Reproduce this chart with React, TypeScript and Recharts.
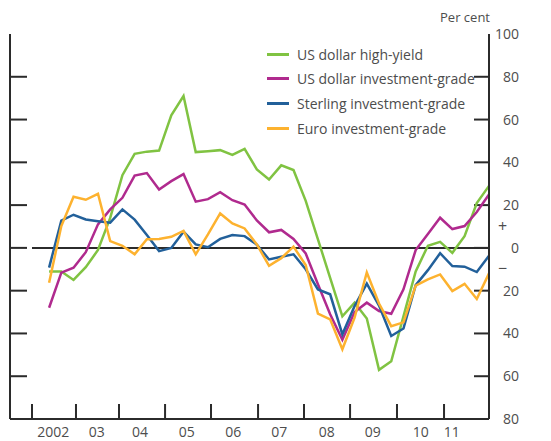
import { LineChart, Line, XAxis, YAxis, ReferenceLine } from "recharts"

const HIGH_YIELD = [-11, -11, -15, -9, -1, 14, 34, 44, 45, 45.5, 62, 71, 44.8, 45.2, 45.7, 43.5, 46.3, 36.7, 32, 38.6, 36.4, 22, 4, -14, -32, -25.6, -33, -57, -53, -32, -11, 1, 2.8, -2.3, 5.5, 21, 29]
const USD_IG = [-28, -11.6, -9.3, -2, 11, 18, 23.4, 33.8, 35, 27.3, 31.2, 34.5, 21.6, 22.8, 26, 22.3, 20.3, 12.8, 7.3, 8.4, 4.2, -2.6, -17, -31, -43, -30, -25.6, -29.5, -30.8, -19.4, -1, 6.5, 14.1, 8.8, 10.2, 16.8, 25]
const STERLING_IG = [-9.2, 12.8, 15.5, 13.3, 12.5, 11.8, 18, 13.2, 6, -1.5, 0, 7.6, 1.6, 0.3, 4.2, 6, 5.5, 1.5, -5.4, -4.1, -3, -10, -19.4, -21.7, -40.4, -27.2, -16.7, -27, -41.2, -37.7, -17.4, -10.4, -2.5, -8.5, -8.8, -11.3, -3.7]
const EURO_IG = [-16.3, 10.2, 23.9, 22.5, 25.3, 3.2, 1, -3, 4, 4.2, 5.2, 7.9, -3, 6.3, 16.1, 11.4, 9.1, 1.6, -8.4, -4.8, 0.6, -8, -30.7, -33.4, -47.4, -32.6, -11.5, -26, -36.6, -34.8, -17.6, -14.7, -12.4, -20.2, -16.8, -23.9, -11.9]

// year boundaries and label centres, in observation units
const YEAR_TICKS = [-1.4, 2.2, 5.72, 9.49, 13.25, 17.1, 20.86, 24.63, 28.47, 32.32]
const YEAR_LABEL_POS = [0.34, 3.9, 7.44, 11.26, 15.07, 18.84, 22.72, 26.48, 30.41, 32.95]
const YEAR_LABELS = ["2002", "03", "04", "05", "06", "07", "08", "09", "10", "11"]

const Y_TICKS = [80, 60, 40, 20, 0, -20, -40, -60]
const Y_LABELS = [100, 80, 60, 40, 20, 10, 0, -10, -20, -40, -60, -80]

const SERIES = [
  { key: "hy", name: "US dollar high-yield", color: "#80c342" },
  { key: "usd", name: "US dollar investment-grade", color: "#b02a8e" },
  { key: "gbp", name: "Sterling investment-grade", color: "#22609a" },
  { key: "eur", name: "Euro investment-grade", color: "#fdb22f" },
]

const X_DOMAIN = [-3.2, 36]
const Y_DOMAIN = [-80, 100]
const RIGHT_TICK_LEN = 1.23 // in observation units

const FRAME = "#2b2b2b"
const TEXT = "#4d4d4d"
const FONT = "'Open Sans', sans-serif"

const data = HIGH_YIELD.map((v, i) => ({
  i,
  hy: v,
  usd: USD_IG[i],
  gbp: STERLING_IG[i],
  eur: EURO_IG[i],
}))

const LeftTick = (props: any) => {
  const { x, y } = props
  return <rect x={x} y={y - 1} width={17} height={2} fill={FRAME} />
}

const RightTick = (props: any) => {
  const { x, y, payload } = props
  const v = Number(payload.value)
  if (v === 10 || v === -10) {
    return (
      <text x={x + 9} y={y + 5} textAnchor="start" fill={TEXT} fontSize={16} fontFamily={FONT}>
        {v > 0 ? "+" : "−"}
      </text>
    )
  }
  return (
    <text x={x + 30} y={y + 5} textAnchor="end" fill={TEXT} fontSize={14} fontFamily={FONT}>
      {Math.abs(v)}
    </text>
  )
}

const BottomTick = (props: any) => {
  const { x, y, payload } = props
  const li = YEAR_LABEL_POS.indexOf(payload.value)
  if (li >= 0) {
    return (
      <text x={x} y={y + 18} textAnchor="middle" fill={TEXT} fontSize={14} fontFamily={FONT}>
        {YEAR_LABELS[li]}
      </text>
    )
  }
  return <rect x={x - 1} y={y - 15} width={2} height={15} fill={FRAME} />
}

export default function App() {
  return (
    <div style={{ position: "absolute", left: 0, top: 0, width: 551, height: 441, background: "#fff", fontFamily: FONT }}>
      <div style={{ position: "absolute", right: 61, top: 8, fontSize: 13, color: TEXT }}>Per cent</div>
      <LineChart width={551} height={441} data={data} margin={{ top: 34, right: 0, bottom: 0, left: 0 }}>
        <XAxis
          dataKey="i"
          type="number"
          domain={X_DOMAIN}
          ticks={[...YEAR_TICKS, ...YEAR_LABEL_POS]}
          interval={0}
          height={22}
          tickSize={0}
          tickMargin={0}
          tickLine={false}
          axisLine={{ stroke: FRAME, strokeWidth: 2 }}
          tick={<BottomTick />}
        />
        <XAxis
          xAxisId="top"
          orientation="top"
          dataKey="i"
          type="number"
          domain={X_DOMAIN}
          height={0}
          tick={false}
          tickLine={false}
          axisLine={{ stroke: FRAME, strokeWidth: 2 }}
        />
        <YAxis
          yAxisId="l"
          type="number"
          domain={Y_DOMAIN}
          ticks={Y_TICKS}
          interval={0}
          width={10}
          tickSize={0}
          tickMargin={0}
          tickLine={false}
          axisLine={{ stroke: FRAME, strokeWidth: 2 }}
          tick={<LeftTick />}
        />
        <YAxis
          yAxisId="r"
          orientation="right"
          type="number"
          domain={Y_DOMAIN}
          ticks={Y_LABELS}
          interval={0}
          width={62}
          tickSize={0}
          tickMargin={0}
          tickLine={false}
          axisLine={{ stroke: FRAME, strokeWidth: 2 }}
          tick={<RightTick />}
        />
        {/* inward tick marks on the right-hand axis */}
        {Y_TICKS.map(v => (
          <ReferenceLine
            key={`rt${v}`}
            yAxisId="l"
            segment={[{ x: X_DOMAIN[1] - RIGHT_TICK_LEN, y: v }, { x: X_DOMAIN[1], y: v }]}
            stroke={FRAME}
            strokeWidth={2}
          />
        ))}
        <ReferenceLine
          yAxisId="l"
          segment={[{ x: YEAR_TICKS[0], y: 0 }, { x: X_DOMAIN[1], y: 0 }]}
          stroke={FRAME}
          strokeWidth={2}
        />
        {/* invisible copy so the top and right axes have a series bound to them */}
        <Line
          xAxisId="top"
          yAxisId="r"
          dataKey="hy"
          stroke="transparent"
          dot={false}
          activeDot={false}
          legendType="none"
          isAnimationActive={false}
        />
        {SERIES.map(s => (
          <Line
            key={s.key}
            yAxisId="l"
            type="linear"
            dataKey={s.key}
            name={s.name}
            stroke={s.color}
            strokeWidth={2.5}
            dot={false}
            isAnimationActive={false}
          />
        ))}
      </LineChart>
      <div style={{ position: "absolute", left: 267, top: 42 }}>
        {SERIES.map(s => (
          <div key={s.key} style={{ height: 24.6, display: "flex", alignItems: "center", fontSize: 14, color: TEXT }}>
            <span style={{ width: 22, height: 3, background: s.color, display: "inline-block", marginRight: 8 }} />
            {s.name}
          </div>
        ))}
      </div>
    </div>
  )
}
